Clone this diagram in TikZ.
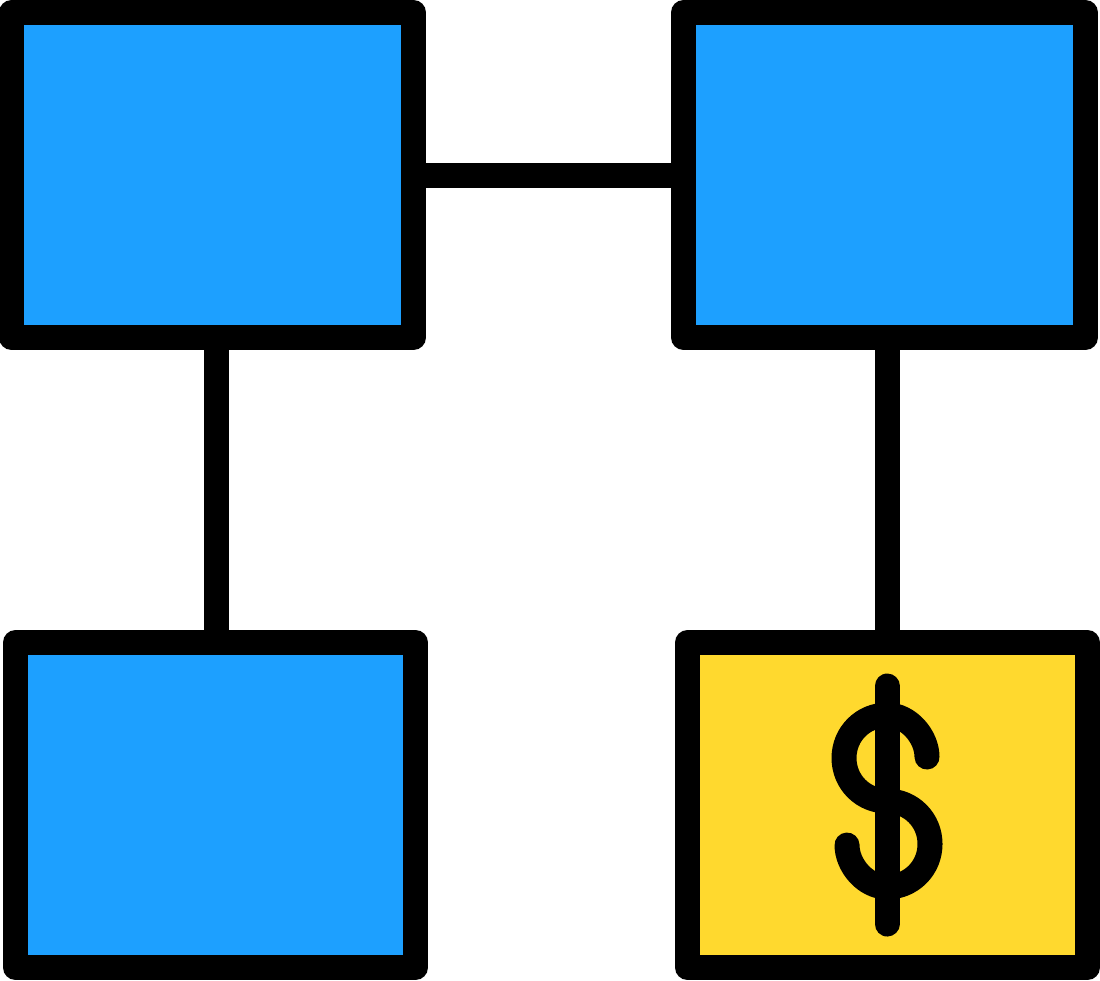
\documentclass[tikz,border=0pt]{standalone}
\usepackage{xcolor}
\usetikzlibrary{positioning}

\definecolor{boxblue}{RGB}{29,160,255}
\definecolor{boxyellow}{RGB}{255,217,46}

\begin{document}
\begin{tikzpicture}[
					x=0.1mm, y=-0.1mm,
					line width=2.5mm, line join=round,
					block/.style={draw, fill=boxblue, rectangle, minimum width=40mm, minimum height=32.5mm, inner sep=0pt},
					link/.style={draw, line cap=butt}
				]
					\useasboundingbox (0,0) rectangle (1100,980);
					\node[block, minimum width=40.2mm] (tl) at (212.5,175) {};
					\node[block, minimum width=40.2mm] (tr) at (884.5,175) {};
					\node[block] (bl) at (215.5,805) {};
					\node[block, fill=boxyellow] (br) at (887.5,805) {};
					% connectors
					\draw[link] (tl.east) -- (tr.west);
					\draw[link] (bl.north -| 216,0) -- (216,0 |- tl.south);
					\draw[link] (br.north -| 887,0) -- (887,0 |- tr.south);
					% dollar sign
					\draw[line cap=round] (887,686) -- (887,924);
					\draw[line cap=round]
						(927,757) .. controls (927,737) and (909,715) .. (887,715)
						.. controls (863,715) and (844,734) .. (844,758)
						.. controls (844,782) and (863,801) .. (887,801)
						.. controls (911,801) and (930,820) .. (930,844)
						.. controls (930,868) and (911,887) .. (887,887)
						.. controls (865,887) and (847,865) .. (847,845);
				\end{tikzpicture}
\end{document}
